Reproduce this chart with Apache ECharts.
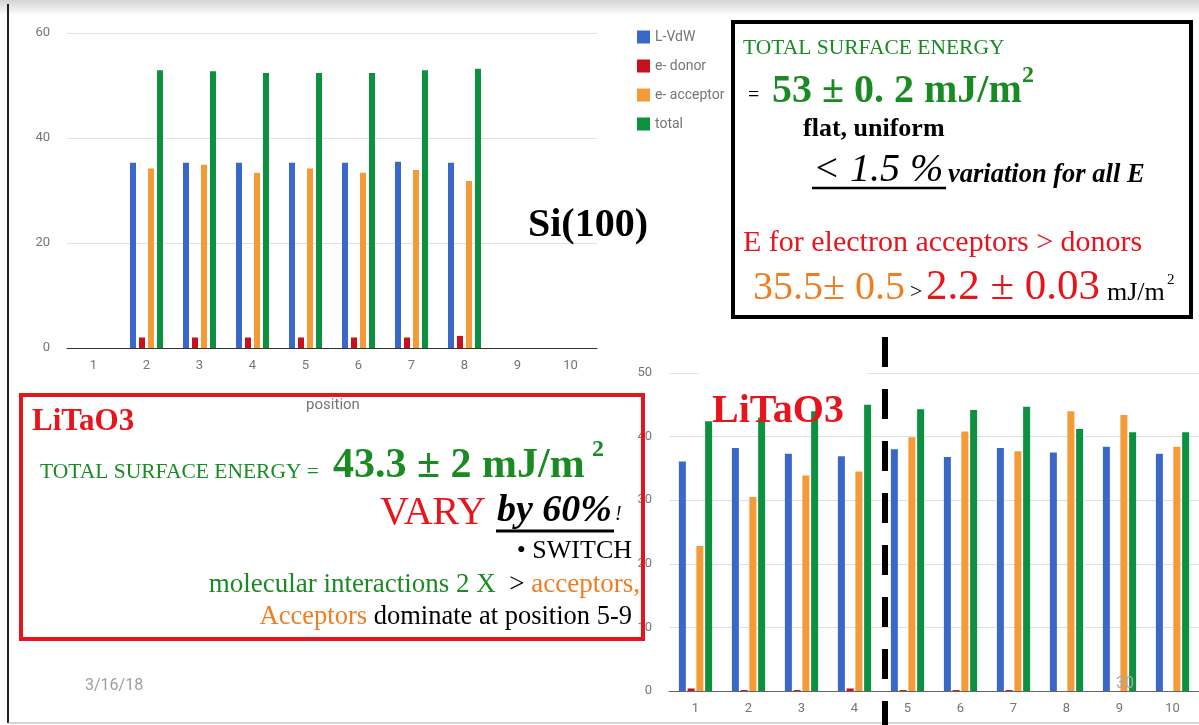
<!DOCTYPE html>
<html><head><meta charset="utf-8">
<script src="https://cdn.jsdelivr.net/npm/echarts@6/dist/echarts.min.js"></script>
<style>html,body{margin:0;padding:0;background:#fff}#c{width:1199px;height:725px}</style>
</head><body><div id="c"></div>
<script>
const positions = ['1','2','3','4','5','6','7','8','9','10'];
const seriesNames = ['L-VdW','e- donor','e- acceptor','total'];
// Si(100)
const siLVdW     = [null,35.3,35.3,35.3,35.3,35.3,35.5,35.3,null,null];
const siDonor    = [null,2.0,2.0,2.0,2.0,2.0,2.0,2.3,null,null];
const siAcceptor = [null,34.2,34.9,33.4,34.2,33.4,33.9,31.8,null,null];
const siTotal    = [null,52.9,52.7,52.4,52.4,52.4,52.9,53.2,null,null];
// LiTaO3
const ltLVdW     = [36.1,38.2,37.3,36.9,38.0,36.8,38.2,37.5,38.4,37.3];
const ltDonor    = [0.4,0.15,0.15,0.4,0.15,0.15,0.15,0,0,0];
const ltAcceptor = [22.8,30.5,33.9,34.5,39.9,40.8,37.7,44.0,43.4,38.4];
const ltTotal    = [42.4,43.0,44.0,45.0,44.3,44.2,44.7,41.2,40.7,40.7];
const siTicks = [0,20,40,60];
const ltTicks = [0,10,20,30,40,50];

const colors = ['#3a68c8','#c8101e','#f49a36','#0b9140'];
const SERIF = '"Liberation Serif", "Times New Roman", serif';
const GREEN = '#1a8a22', RED = '#e8141b', ORANGE = '#ef7d22';

const chart = echarts.init(document.getElementById('c'));
const axisLabel = {color:'#757575', fontSize:13, fontFamily:'Roboto'};

function bars(data, idx, gi, w, gap){
  return {type:'bar', name:seriesNames[idx], data:data, xAxisIndex:gi, yAxisIndex:gi,
    barWidth:w, barGap:gap, itemStyle:{color:colors[idx]}, silent:true};
}
function txt(text, x, y, font, fill, extra){
  return {type:'text', z:100, style:Object.assign({text:text, x:x, y:y, font:font, fill:fill, verticalAlign:'middle', align:'left'}, extra||{})};
}
function line(x1,y1,x2,y2,stroke,w,dash,z){
  return {type:'line', z:z||100, shape:{x1:x1,y1:y1,x2:x2,y2:y2}, style:{stroke:stroke, lineWidth:w, lineDash:dash||null}};
}

const graphics = [
  {type:'rect', z:0, shape:{x:0,y:0,width:1199,height:14}, style:{fill:new echarts.graphic.LinearGradient(0,0,0,1,[{offset:0,color:'#d4d4d4'},{offset:1,color:'#fafafa'}])}},
  line(8,4,8,723,'#222',2,null,50),
  line(8,723,1199,723,'#aaa',1,null,50),
  {type:'rect', z:1, shape:{x:699,y:369,width:168,height:8}, style:{fill:'#fff'}},
  // black box
  {type:'rect', z:90, shape:{x:733,y:22,width:458,height:295}, style:{fill:'#fff', stroke:'#000', lineWidth:4}},
  txt('TOTAL SURFACE ENERGY', 743, 48, '21.5px '+SERIF, GREEN),
  txt('=', 748, 96, '20px '+SERIF, '#000'),
  txt('53 ± 0. 2 mJ/m', 772, 92, 'bold 40px '+SERIF, GREEN),
  txt('2', 1022, 76, 'bold 24px '+SERIF, GREEN),
  txt('flat, uniform', 803, 129, 'bold 26px '+SERIF, '#000'),
  txt('< 1.5 %', 813, 170, 'italic 40px '+SERIF, '#000'),
  line(812,188,946,188,'#000',2.5),
  txt('variation for all E', 948, 175, 'bold italic 26.5px '+SERIF, '#000'),
  txt('E for electron acceptors > donors', 743, 243, '30px '+SERIF, RED),
  txt('35.5± 0.5', 753, 288, '40px '+SERIF, ORANGE),
  txt('>', 910, 292, '22px '+SERIF, '#000'),
  txt('2.2 ± 0.03', 926, 288, '43px '+SERIF, RED, {letterSpacing:1}),
  txt('mJ/m', 1107, 293, '26px '+SERIF, '#000'),
  txt('2', 1167, 280, '15px '+SERIF, '#000'),
  // Si label
  txt('Si(100)', 528, 226, 'bold 40px '+SERIF, '#000'),
  // red box
  {type:'rect', z:90, shape:{x:21,y:395,width:622,height:244}, style:{fill:null, stroke:RED, lineWidth:4}},
  txt('position', 333, 405, '15px Roboto', '#757575', {align:'center'}),
  txt('LiTaO3', 32, 422, 'bold 31px '+SERIF, RED),
  txt('TOTAL SURFACE ENERGY =', 40, 472, '21.5px '+SERIF, GREEN),
  txt('43.3 ± 2 mJ/m', 333, 466, 'bold 42px '+SERIF, GREEN),
  txt('2', 592, 450, 'bold 24px '+SERIF, GREEN),
  txt('VARY', 380, 513, '40px '+SERIF, RED),
  txt('by 60%', 497, 511, 'bold italic 38px '+SERIF, '#000'),
  line(496,531,614,531,'#000',3),
  txt('!', 615, 515, 'italic 20px '+SERIF, '#000'),
  txt('• SWITCH', 632, 551, '26px '+SERIF, '#000', {align:'right'}),
  {type:'text', z:100, style:{x:640, y:585, align:'right', verticalAlign:'middle', text:'{g|molecular interactions 2 X}{k|  > }{o|acceptors,}',
    rich:{g:{fill:GREEN, font:'27px '+SERIF}, k:{fill:'#000', font:'27px '+SERIF}, o:{fill:ORANGE, font:'27px '+SERIF}}}},
  {type:'text', z:100, style:{x:632, y:617, align:'right', verticalAlign:'middle', text:'{o|Acceptors}{k| dominate at position 5-9}',
    rich:{k:{fill:'#000', font:'26.5px '+SERIF}, o:{fill:ORANGE, font:'26.5px '+SERIF}}}},
  txt('3/16/18', 85, 686, '16px Roboto', '#9e9e9e'),
  txt('30', 1116, 684, '16px Roboto', '#a8a8a8'),
  txt('LiTaO3', 712, 412, 'bold 40px '+SERIF, RED),
  line(885,337,885,725,'#000',6,[30,22],110)
];

chart.setOption({
  animation:false,
  backgroundColor:'#fff',
  legend:{data:seriesNames, orient:'vertical', left:632, top:25, itemWidth:13, itemHeight:13, itemGap:15,
    icon:'rect', textStyle:{color:'#757575', fontSize:14, fontFamily:'Roboto'}, selectedMode:false},
  grid:[
    {left:67, top:33, width:530, height:315},
    {left:669, top:373, width:540, height:318}
  ],
  xAxis:[
    {gridIndex:0, type:'category', data:positions, axisTick:{show:false}, axisLine:{lineStyle:{color:'#333'}}, axisLabel:Object.assign({margin:11}, axisLabel)},
    {gridIndex:1, type:'category', data:positions, axisTick:{show:false}, axisLine:{lineStyle:{color:'#666'}}, axisLabel:Object.assign({margin:11}, axisLabel)}
  ],
  yAxis:[
    {gridIndex:0, type:'value', min:siTicks[0], max:siTicks[siTicks.length-1], interval:20, axisLabel:Object.assign({margin:17}, axisLabel), splitLine:{lineStyle:{color:'#e0e0e0'}}},
    {gridIndex:1, type:'value', min:ltTicks[0], max:ltTicks[ltTicks.length-1], interval:10, axisLabel:Object.assign({margin:17}, axisLabel), splitLine:{lineStyle:{color:'#e0e0e0'}}}
  ],
  series:[
    bars(siLVdW,0,0,6,'50%'), bars(siDonor,1,0,6,'50%'), bars(siAcceptor,2,0,6,'50%'), bars(siTotal,3,0,6,'50%'),
    bars(ltLVdW,0,1,7,'25%'), bars(ltDonor,1,1,7,'25%'), bars(ltAcceptor,2,1,7,'25%'), bars(ltTotal,3,1,7,'25%')
  ],
  graphic:graphics
});
</script></body></html>
